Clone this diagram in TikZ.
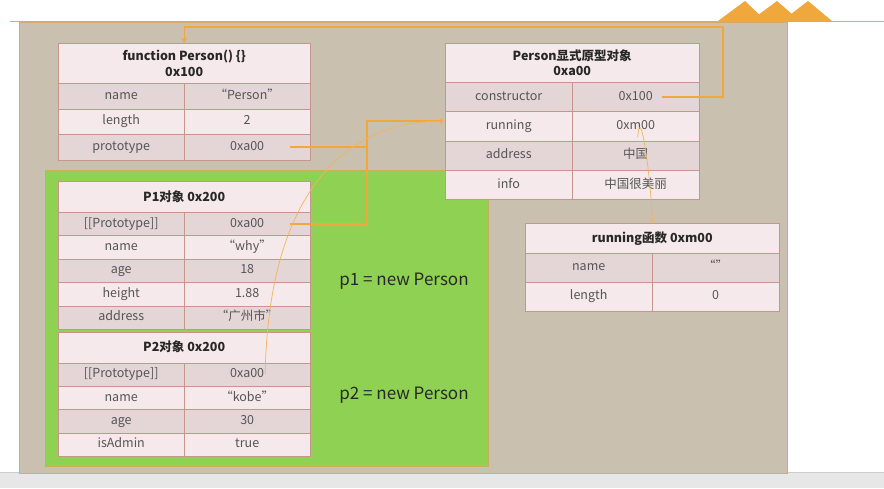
\documentclass[tikz,border=0pt]{standalone}
\usepackage{fontspec}
\setmainfont{Noto Sans CJK SC}
\usetikzlibrary{arrows}
\definecolor{slidebg}{RGB}{201,192,176}
\definecolor{slideedge}{RGB}{214,170,110}
\definecolor{greenbg}{RGB}{143,209,82}
\definecolor{greenedge}{RGB}{200,175,90}
\definecolor{headfill}{RGB}{246,233,235}
\definecolor{rowdark}{RGB}{228,214,214}
\definecolor{rowlight}{RGB}{245,233,235}
\definecolor{cellline}{RGB}{198,150,140}
\definecolor{celltext}{RGB}{85,85,85}
\definecolor{headtext}{RGB}{40,40,40}
\definecolor{linkorange}{RGB}{240,168,60}
\definecolor{stripgray}{RGB}{231,231,231}
\tikzstyle{head} = [rectangle, draw=cellline, fill=headfill, anchor=north west, inner sep=0pt, align=center, text=headtext, font=\fontsize{12.5}{15.5}\selectfont\bfseries]
\tikzstyle{cell} = [rectangle, draw=cellline, anchor=north west, inner sep=0pt, text height=9pt, text depth=2.5pt, text=celltext, font=\fontsize{12.5}{14}\selectfont]
\tikzstyle{note} = [text=headtext, font=\fontsize{17}{20}\selectfont]
\tikzstyle{link} = [draw=linkorange, line width=1.3pt]
\tikzstyle{arrow} = [link, ->, >=stealth]
\tikzstyle{thinarrow} = [draw=linkorange!85, line width=0.7pt, ->, >=stealth]

\begin{document}
\begin{tikzpicture}[x=1pt, y=-1pt]
\useasboundingbox (0,0) rectangle (884,488);
\fill[white] (0,0) rectangle (884,488);
\fill[stripgray] (0,472) rectangle (884,488);
\draw[gray!40] (0,472) -- (884,472);
% slide header
\fill[linkorange] (718,21) -- (745,1) -- (766,21) -- cycle;
\fill[linkorange] (750,21) -- (777,1) -- (800,21) -- cycle;
\fill[linkorange] (782,21) -- (808,1) -- (832,21) -- cycle;
\draw[linkorange, line width=1pt] (10,21) -- (884,21);
% backgrounds
\draw[slideedge, fill=slidebg] (19,22) rectangle (787,473);
\draw[greenedge, fill=greenbg] (45,170) rectangle (488,466);

% function Person
\node (pfn) [head, minimum width=252pt, minimum height=40pt] at (58,43) {function Person() \{\}\\0x100};
\foreach \key/\val/\shade [count=\i] in {name/“Person”/rowdark, length/2/rowlight, prototype/0xa00/rowdark} {
  \node (pfn-k\i) [cell, fill=\shade, minimum width=126pt, minimum height=25.5pt] at (58,{83+(\i-1)*25.5}) {\key};
  \node (pfn-v\i) [cell, fill=\shade, minimum width=126pt, minimum height=25.5pt] at (184,{83+(\i-1)*25.5}) {\val};
}

% Person prototype object
\node (proto) [head, minimum width=254pt, minimum height=39pt] at (445,43) {Person显式原型对象\\0xa00};
\foreach \key/\val/\shade [count=\i] in {constructor/0x100/rowdark, running/0xm00/rowlight, address/中国/rowdark, info/中国很美丽/rowlight} {
  \node (proto-k\i) [cell, fill=\shade, minimum width=127pt, minimum height=29.3pt] at (445,{82+(\i-1)*29.3}) {\key};
  \node (proto-v\i) [cell, fill=\shade, minimum width=127pt, minimum height=29.3pt] at (572,{82+(\i-1)*29.3}) {\val};
}

% p1
\node (pone) [head, minimum width=252pt, minimum height=31pt] at (58,181) {P1对象 0x200};
\foreach \key/\val/\shade [count=\i] in {{[[Prototype]]}/0xa00/rowdark, name/“why”/rowlight, age/18/rowdark, height/1.88/rowlight, address/“广州市”/rowdark} {
  \node (pone-k\i) [cell, fill=\shade, minimum width=126pt, minimum height=23.4pt] at (58,{212+(\i-1)*23.4}) {\key};
  \node (pone-v\i) [cell, fill=\shade, minimum width=126pt, minimum height=23.4pt] at (184,{212+(\i-1)*23.4}) {\val};
}

% p2
\node (ptwo) [head, minimum width=252pt, minimum height=31pt] at (58,331.5) {P2对象 0x200};
\foreach \key/\val/\shade [count=\i] in {{[[Prototype]]}/0xa00/rowdark, name/“kobe”/rowlight, age/30/rowdark, isAdmin/true/rowlight} {
  \node (ptwo-k\i) [cell, fill=\shade, minimum width=126pt, minimum height=23.4pt] at (58,{362.5+(\i-1)*23.4}) {\key};
  \node (ptwo-v\i) [cell, fill=\shade, minimum width=126pt, minimum height=23.4pt] at (184,{362.5+(\i-1)*23.4}) {\val};
}

% running function
\node (run) [head, minimum width=254pt, minimum height=30pt] at (525,223) {running函数 0xm00};
\foreach \key/\val/\shade [count=\i] in {name/“”/rowdark, length/0/rowlight} {
  \node (run-k\i) [cell, fill=\shade, minimum width=127pt, minimum height=29pt] at (525,{253+(\i-1)*29}) {\key};
  \node (run-v\i) [cell, fill=\shade, minimum width=127pt, minimum height=29pt] at (652,{253+(\i-1)*29}) {\val};
}

\node (pone-new) [note] at (404,281) {p1 = new Person};
\node (ptwo-new) [note] at (404,395) {p2 = new Person};

% links
\coordinate (topturn) at (723,27);
\coordinate (joint) at (367,121);
\draw [arrow] ([xshift=26pt]proto-v1.center) -| (topturn) -| (pfn.north);
\draw [link] ([xshift=43pt]pfn-v3.center) -- (pfn-v3.center -| joint);
\draw [arrow] ([xshift=43pt]pone-v1.center) -| (joint) -- (proto-k2.west |- joint);
\draw [thinarrow] ([xshift=18pt]ptwo-v1.center) .. controls +(3,-175) and +(-105,0) .. (proto-k2.west |- joint);
\draw [thinarrow] ([xshift=2pt,yshift=-11pt]proto-v2.center) .. controls +(3,-40) and +(0,-30) .. (run.north);
\end{tikzpicture}
\end{document}
